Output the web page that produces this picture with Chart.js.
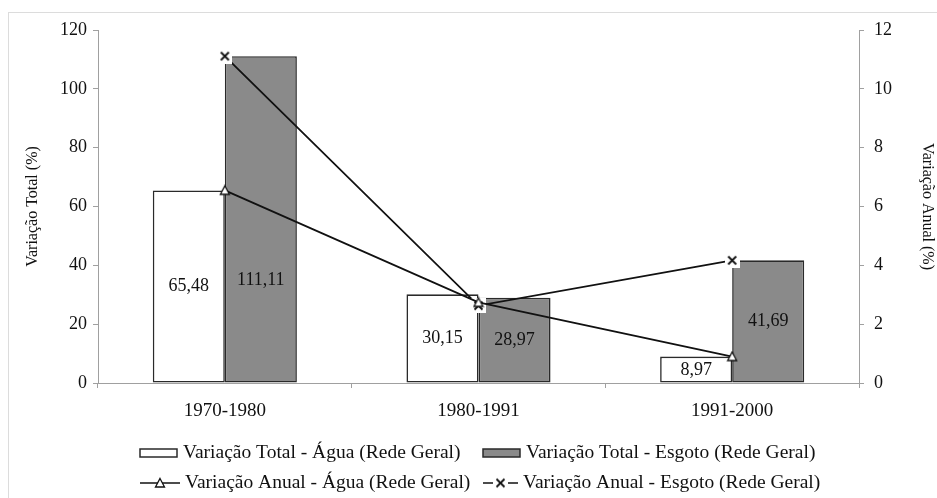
<!DOCTYPE html>
<html>
<head>
<meta charset="utf-8">
<script src="https://cdn.jsdelivr.net/npm/chart.js@4.4.1/dist/chart.umd.min.js"></script>
<style>
  body { margin: 0; background: #fff; }
  #wrap { position: relative; width: 937px; height: 498px; }
  #frame { position: absolute; left: 8px; top: 12px; right: 0; bottom: 0;
           border-left: 1px solid #dcdcdc; border-top: 1px solid #dcdcdc; pointer-events: none; }
</style>
</head>
<body>
<div id="wrap">
  <canvas id="myChart" width="937" height="498"></canvas>
  <div id="frame"></div>
</div>
<script>
// dados do grafico
let periodos = ['1970-1980', '1980-1991', '1991-2000'];
let totalAgua = [65.48, 30.15, 8.97];     // variação total (%)
let totalEsgoto = [111.11, 28.97, 41.69];
let anualAgua = [6.55, 2.74, 0.90];       // variação anual (%)
let anualEsgoto = [11.11, 2.63, 4.17];
let ticksTotal = [0, 120, 20];  // min, max, passo
let ticksAnual = [0, 12, 2];

const serif = "'Liberation Serif', 'DejaVu Serif', serif";
const cinza = '#8a8a8a';
const borda = '#2a2a2a';

// marcadores desenhados a parte (triangulo vazado e X com fundo branco)
function marcaTriangulo() {
  const c = document.createElement('canvas');
  c.width = 12; c.height = 12;
  const g = c.getContext('2d');
  g.beginPath();
  g.moveTo(6, 1.5); g.lineTo(10.5, 10); g.lineTo(1.5, 10); g.closePath();
  g.fillStyle = '#fff'; g.fill();
  g.strokeStyle = '#111'; g.lineWidth = 1.3; g.stroke();
  return c;
}
function marcaX() {
  const c = document.createElement('canvas');
  c.width = 15; c.height = 15;
  const g = c.getContext('2d');
  g.fillStyle = '#fff'; g.fillRect(0, 0, 15, 15);
  g.strokeStyle = '#111'; g.lineWidth = 1.8;
  g.beginPath();
  g.moveTo(3.5, 3.5); g.lineTo(11.5, 11.5);
  g.moveTo(11.5, 3.5); g.lineTo(3.5, 11.5);
  g.stroke();
  return c;
}
const triImg = marcaTriangulo();
const xImg = marcaX();

function fmt(v) {
  return v.toFixed(2).replace('.', ',');
}

// rotulos de valor dentro das barras (barras muito altas: rotulo mais baixo)
const rotulos = {
  id: 'rotulos',
  afterDatasetsDraw(chart) {
    const ctx = chart.ctx;
    const ys = chart.scales.y;
    ctx.save();
    ctx.font = '18px ' + serif;
    ctx.fillStyle = '#111';
    ctx.textAlign = 'center';
    ctx.textBaseline = 'middle';
    chart.data.datasets.forEach((ds, i) => {
      if (ds.type !== 'bar') return;
      chart.getDatasetMeta(i).data.forEach((bar, j) => {
        const meio = Math.min(ds.data[j], 70) / 2;
        ctx.fillText(fmt(ds.data[j]), bar.x, ys.getPixelForValue(meio));
      });
    });
    ctx.restore();
  }
};

// legenda em duas colunas
const legenda = {
  id: 'legenda',
  afterDraw(chart) {
    const ctx = chart.ctx;
    const col = [140, 483];
    const lin = [453, 483];
    ctx.save();
    ctx.font = '19.5px ' + serif;
    ctx.fillStyle = '#111';
    ctx.textBaseline = 'middle';
    ctx.textAlign = 'left';
    const ds = chart.data.datasets;
    // barras
    [ds[2], ds[3]].forEach((d, k) => {
      ctx.fillStyle = d.backgroundColor;
      ctx.fillRect(col[k], lin[0] - 4, 37, 8);
      ctx.strokeStyle = borda;
      ctx.lineWidth = 1.5;
      ctx.strokeRect(col[k], lin[0] - 4, 37, 8);
      ctx.fillStyle = '#111';
      ctx.fillText(d.label, col[k] + 43, lin[0]);
    });
    // linhas
    [ds[0], ds[1]].forEach((d, k) => {
      const w = k === 0 ? 40 : 35;
      ctx.strokeStyle = '#111';
      ctx.lineWidth = 1.5;
      ctx.beginPath();
      ctx.moveTo(col[k], lin[1]);
      ctx.lineTo(col[k] + w, lin[1]);
      ctx.stroke();
      const img = d.pointStyle;
      ctx.drawImage(img, col[k] + w / 2 - img.width / 2, lin[1] - img.height / 2);
      ctx.fillStyle = '#111';
      ctx.fillText(d.label, col[k] + w + 5, lin[1]);
    });
    ctx.restore();
  }
};

const ctx = document.getElementById('myChart').getContext('2d');
window.myBar = new Chart(ctx, {
  data: {
    labels: periodos,
    datasets: [{
      type: 'line',
      label: 'Variação Anual - Água (Rede Geral)',
      data: anualAgua,
      yAxisID: 'y1',
      borderColor: '#111',
      borderWidth: 1.8,
      pointStyle: triImg,
      order: 0
    }, {
      type: 'line',
      label: 'Variação Anual - Esgoto (Rede Geral)',
      data: anualEsgoto,
      yAxisID: 'y1',
      borderColor: '#111',
      borderWidth: 1.8,
      pointStyle: xImg,
      order: 0
    }, {
      type: 'bar',
      label: 'Variação Total - Água (Rede Geral)',
      data: totalAgua,
      yAxisID: 'y',
      backgroundColor: '#ffffff',
      borderColor: borda,
      borderWidth: 1.6,
      borderSkipped: false,
      categoryPercentage: 0.568,
      barPercentage: 1.0,
      order: 1
    }, {
      type: 'bar',
      label: 'Variação Total - Esgoto (Rede Geral)',
      data: totalEsgoto,
      yAxisID: 'y',
      backgroundColor: cinza,
      borderColor: borda,
      borderWidth: 1.6,
      borderSkipped: false,
      categoryPercentage: 0.568,
      barPercentage: 1.0,
      order: 1
    }]
  },
  options: {
    responsive: false,
    animation: false,
    layout: { padding: { top: 30, left: 0, right: 0, bottom: 0 } },
    plugins: {
      legend: { display: false },
      tooltip: { enabled: false }
    },
    scales: {
      x: {
        grid: { drawOnChartArea: false, offset: true, tickLength: 5, color: '#a0a0a0' },
        border: { color: '#a0a0a0', width: 1 },
        ticks: { font: { family: serif, size: 19 }, color: '#111', padding: 12 },
        afterFit(scale) { scale.height = 115; }
      },
      y: {
        position: 'left',
        min: ticksTotal[0], max: ticksTotal[1],
        ticks: { stepSize: ticksTotal[2], font: { family: serif, size: 18 }, color: '#111', padding: 6 },
        grid: { drawOnChartArea: false, tickLength: 5, color: '#a0a0a0' },
        border: { color: '#a0a0a0', width: 1 },
        title: { display: true, text: 'Variação Total (%)', font: { family: serif, size: 16 }, color: '#111', padding: { top: 23, bottom: 0 } },
        afterFit(scale) { scale.width = 98; }
      },
      y1: {
        position: 'right',
        min: ticksAnual[0], max: ticksAnual[1],
        ticks: { stepSize: ticksAnual[2], font: { family: serif, size: 18 }, color: '#111', padding: 10 },
        grid: { drawOnChartArea: false, tickLength: 5, color: '#a0a0a0' },
        border: { color: '#a0a0a0', width: 1 },
        title: { display: true, text: 'Variação Anual (%)', font: { family: serif, size: 16 }, color: '#111', padding: { top: 0, bottom: 0 } },
        afterFit(scale) { scale.width = 78; }
      }
    }
  },
  plugins: [rotulos, legenda]
});
</script>
</body>
</html>
